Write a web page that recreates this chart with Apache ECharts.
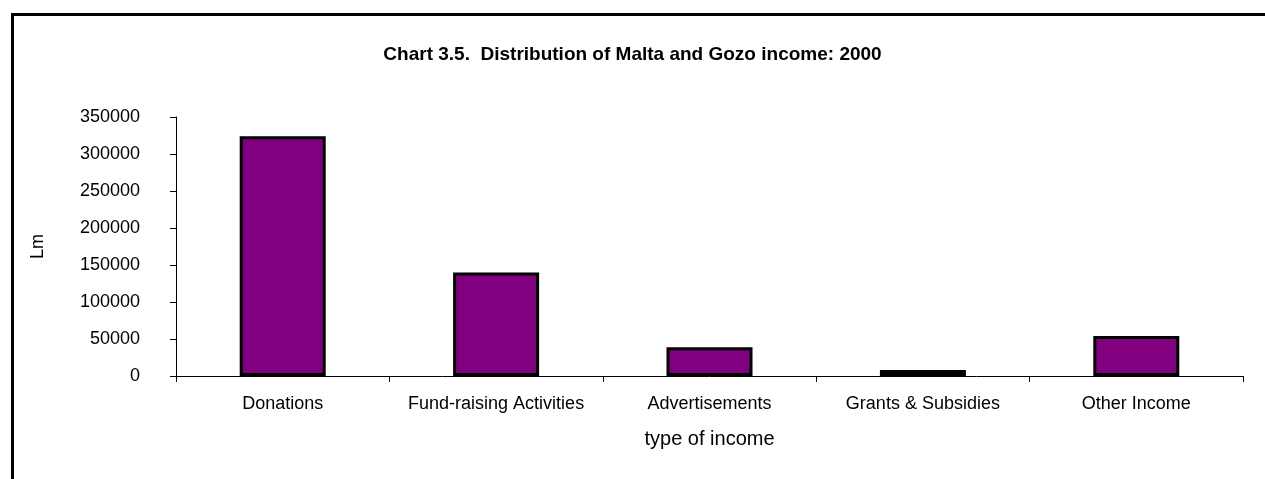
<!DOCTYPE html>
<html>
<head>
<meta charset="utf-8">
<script src="https://cdn.jsdelivr.net/npm/echarts@6/dist/echarts.min.js"></script>
<style>
  html, body { margin: 0; padding: 0; background: #fff; overflow: hidden; }
  #chart { position: absolute; left: 0; top: 0; width: 1265px; height: 479px; }
  #frame { position: absolute; left: 11px; top: 13px; width: 1300px; height: 600px;
           border: 3px solid #000; pointer-events: none; }
</style>
</head>
<body>
<div id="chart"></div>
<div id="frame"></div>
<script>
// data
var categories = ['Donations', 'Fund-raising Activities', 'Advertisements', 'Grants & Subsidies', 'Other Income'];
var income = [324000, 140000, 39000, 8000, 54000];
var yTicks = [0, 50000, 100000, 150000, 200000, 250000, 300000, 350000];

var font = '"Liberation Sans", Arial, sans-serif';
var chart = echarts.init(document.getElementById('chart'));

var option = {
  backgroundColor: '#fff',
  animation: false,
  title: {
    text: 'Chart 3.5.  Distribution of Malta and Gozo income: 2000',
    left: 'center',
    top: 45,
    padding: 0,
    textStyle: { fontFamily: font, fontSize: 19, fontWeight: 'bold', color: '#000' }
  },
  grid: { left: 176, right: 22, top: 117, bottom: 103 },
  xAxis: {
    type: 'category',
    data: categories,
    name: 'type of income',
    nameLocation: 'middle',
    nameGap: 53,
    nameTextStyle: { fontFamily: font, fontSize: 20, color: '#000' },
    axisLine: { lineStyle: { color: '#000', width: 1 } },
    axisTick: { show: true, length: 6, lineStyle: { color: '#000' } },
    axisLabel: { fontFamily: font, fontSize: 18, color: '#000', margin: 19, interval: 0 }
  },
  yAxis: {
    type: 'value',
    min: yTicks[0],
    max: yTicks[yTicks.length - 1],
    interval: yTicks[1] - yTicks[0],
    name: 'Lm',
    nameLocation: 'middle',
    nameGap: 129,
    nameTextStyle: { fontFamily: font, fontSize: 18, color: '#000' },
    axisLine: { show: true, lineStyle: { color: '#000', width: 1 } },
    axisTick: { show: true, length: 6, lineStyle: { color: '#000' } },
    axisLabel: {
      fontFamily: font, fontSize: 18, color: '#000', margin: 36,
      formatter: function (v) { return String(v); }
    },
    splitLine: { show: false }
  },
  series: [
    {
      type: 'bar',
      data: income,
      barWidth: 86,
      itemStyle: { color: '#800080', borderColor: '#000', borderWidth: 3 }
    }
  ]
};
chart.setOption(option);
</script>
</body>
</html>
